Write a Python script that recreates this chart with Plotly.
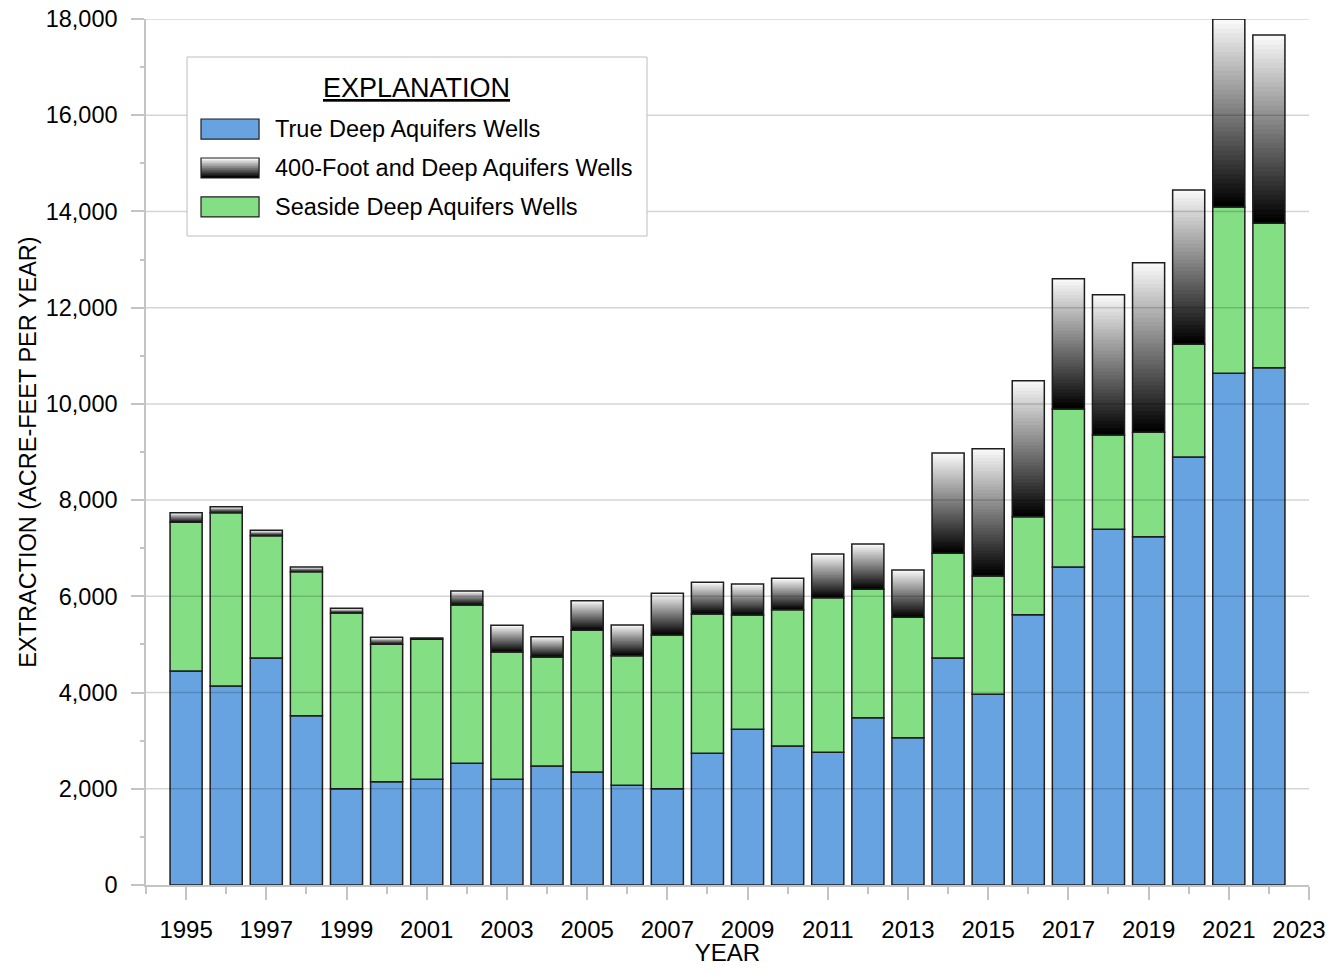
import plotly.graph_objects as go

# extraction by year, acre-feet per year
years = list(range(1995, 2023))
true_deep = [4448, 4136, 4718, 3519, 2002, 2148, 2196, 2529, 2196, 2473,
             2349, 2072, 2002, 2737, 3236, 2889, 2758, 3478, 3062, 4720,
             3963, 5619, 6610, 7393, 7240, 8896, 10635, 10753]
seaside_deep = [3091, 3602, 2543, 2994, 3652, 2854, 2917, 3291, 2647, 2266,
                2944, 2695, 3194, 2896, 2376, 2833, 3214, 2668, 2502, 2174,
                2460, 2037, 3284, 1960, 2169, 2346, 3457, 3000]
foot400_deep = [199, 126, 111, 97, 97, 146, 21, 291, 554, 422,
                617, 637, 867, 658, 644, 653, 908, 942, 983, 2085,
                2646, 2824, 2708, 2917, 3526, 3204, 3908, 3914]

series_names = ["True Deep Aquifers Wells", "400-Foot and Deep Aquifers Wells",
                "Seaside Deep Aquifers Wells"]
x_ticks = list(range(1995, 2024, 2))
# last label padded so it is not cut at the page edge
x_labels = [str(y) for y in x_ticks[:-1]] + [str(x_ticks[-1]) + "\u00a0\u00a0\u00a0"]
y_ticks = list(range(0, 18001, 2000))

BLUE = "#66a3e0"
GREEN = "#84de84"
EDGE = "#1e1e1e"
AXIS_GRAY = "#c4c4c4"
FONT = "Liberation Sans, Arial, sans-serif"

def gray(frac):
    g = int(round(248 * frac))
    return f"rgb({g},{g},{g})"

fig = go.Figure()
outline = dict(color=EDGE, width=1.5)

fig.add_trace(go.Bar(x=years, y=true_deep, base=[0] * len(years), width=0.8,
                     marker=dict(color=BLUE, line=outline), name=series_names[0],
                     showlegend=False))
fig.add_trace(go.Bar(x=years, y=seaside_deep, base=true_deep, width=0.8,
                     marker=dict(color=GREEN, line=outline), name=series_names[2],
                     showlegend=False))

# 400-foot segment: black at the bottom fading to white at the top
below = [a + b for a, b in zip(true_deep, seaside_deep)]
N = 40
for k in range(N):
    fig.add_trace(go.Bar(
        x=years,
        y=[v * (N - k) / N for v in foot400_deep],
        base=[b + v * k / N for b, v in zip(below, foot400_deep)],
        width=0.8,
        marker=dict(color=gray(k / (N - 1)), line=dict(width=0)),
        showlegend=False, hoverinfo="skip"))
fig.add_trace(go.Bar(x=years, y=foot400_deep, base=below, width=0.8,
                     marker=dict(color="rgba(0,0,0,0)", line=outline),
                     name=series_names[1], showlegend=False))

shapes = []
# gridlines drawn over the bars
for v in y_ticks[1:]:
    shapes.append(dict(type="line", xref="paper", x0=0, x1=1, yref="y", y0=v, y1=v,
                       line=dict(color="rgba(0,0,0,0.17)", width=1.5), layer="above"))

# explanation box
shapes.append(dict(type="rect", xref="paper", yref="paper", x0=0.0353, x1=0.4308,
                   y0=0.7494, y1=0.9561, fillcolor="white",
                   line=dict(color="#bdbdbd", width=1), layer="above"))
sw_x0, sw_x1 = 0.0473, 0.0972
rows = [(0.8614, 0.8845), (0.8164, 0.8395), (0.7714, 0.7945)]
shapes.append(dict(type="rect", xref="paper", yref="paper", x0=sw_x0, x1=sw_x1,
                   y0=rows[0][0], y1=rows[0][1], fillcolor=BLUE,
                   line=dict(color=EDGE, width=1.2), layer="above"))
M = 12
y0, y1 = rows[1]
for k in range(M):
    shapes.append(dict(type="rect", xref="paper", yref="paper", x0=sw_x0, x1=sw_x1,
                       y0=y0 + (y1 - y0) * k / M, y1=y1,
                       fillcolor=gray(k / (M - 1)), line=dict(width=0), layer="above"))
shapes.append(dict(type="rect", xref="paper", yref="paper", x0=sw_x0, x1=sw_x1,
                   y0=y0, y1=y1, fillcolor="rgba(0,0,0,0)",
                   line=dict(color=EDGE, width=1.2), layer="above"))
shapes.append(dict(type="rect", xref="paper", yref="paper", x0=sw_x0, x1=sw_x1,
                   y0=rows[2][0], y1=rows[2][1], fillcolor=GREEN,
                   line=dict(color=EDGE, width=1.2), layer="above"))

annotations = [dict(text="<u>EXPLANATION</u>", xref="paper", yref="paper",
                    x=0.2330, y=0.9203, showarrow=False, xanchor="center", yanchor="middle",
                    font=dict(family=FONT, size=27, color="black"))]
for name, (a, b) in zip(series_names, rows):
    annotations.append(dict(text=name, xref="paper", yref="paper", x=0.1092, y=(a + b) / 2,
                            showarrow=False, xanchor="left", yanchor="middle",
                            font=dict(family=FONT, size=23.5, color="black")))

# the page body adds an 8px offset, so the figure is drawn smaller to fit the window
fig.update_layout(
    width=1321, height=958,
    margin=dict(l=138, r=20, t=11, b=81),
    barmode="overlay",
    plot_bgcolor="white", paper_bgcolor="white",
    shapes=shapes, annotations=annotations,
    font=dict(family=FONT, color="black"),
)
fig.update_xaxes(
    range=[1994, 2023], tickvals=x_ticks, ticktext=x_labels, ticks="outside", ticklen=13,
    tickcolor=AXIS_GRAY, tickwidth=1.5, showline=True, linecolor=AXIS_GRAY, linewidth=1.5,
    showgrid=False, zeroline=False, automargin=False, ticklabeloverflow="allow",
    ticklabelstandoff=9,
    minor=dict(dtick=1, tick0=1994, ticks="outside", ticklen=7, tickcolor=AXIS_GRAY,
               tickwidth=1.5, showgrid=False),
    tickfont=dict(family=FONT, size=24, color="black"),
    title=dict(text="YEAR", font=dict(family=FONT, size=24, color="black"), standoff=6),
)
fig.update_yaxes(
    range=[0, 18000], tickvals=y_ticks, tickformat=",d", ticks="outside", ticklen=13,
    tickcolor=AXIS_GRAY, tickwidth=1.5, showline=True, linecolor=AXIS_GRAY, linewidth=1.5,
    showgrid=False, zeroline=False, automargin=False, ticklabeloverflow="allow",
    ticklabelstandoff=9,
    minor=dict(dtick=1000, ticks="outside", ticklen=4, tickcolor=AXIS_GRAY,
               tickwidth=1.5, showgrid=False),
    tickfont=dict(family=FONT, size=23.5, color="black"),
    title=dict(text="EXTRACTION (ACRE-FEET PER YEAR)",
               font=dict(family=FONT, size=23.5, color="black"), standoff=2),
)

fig.write_html("out.html")
